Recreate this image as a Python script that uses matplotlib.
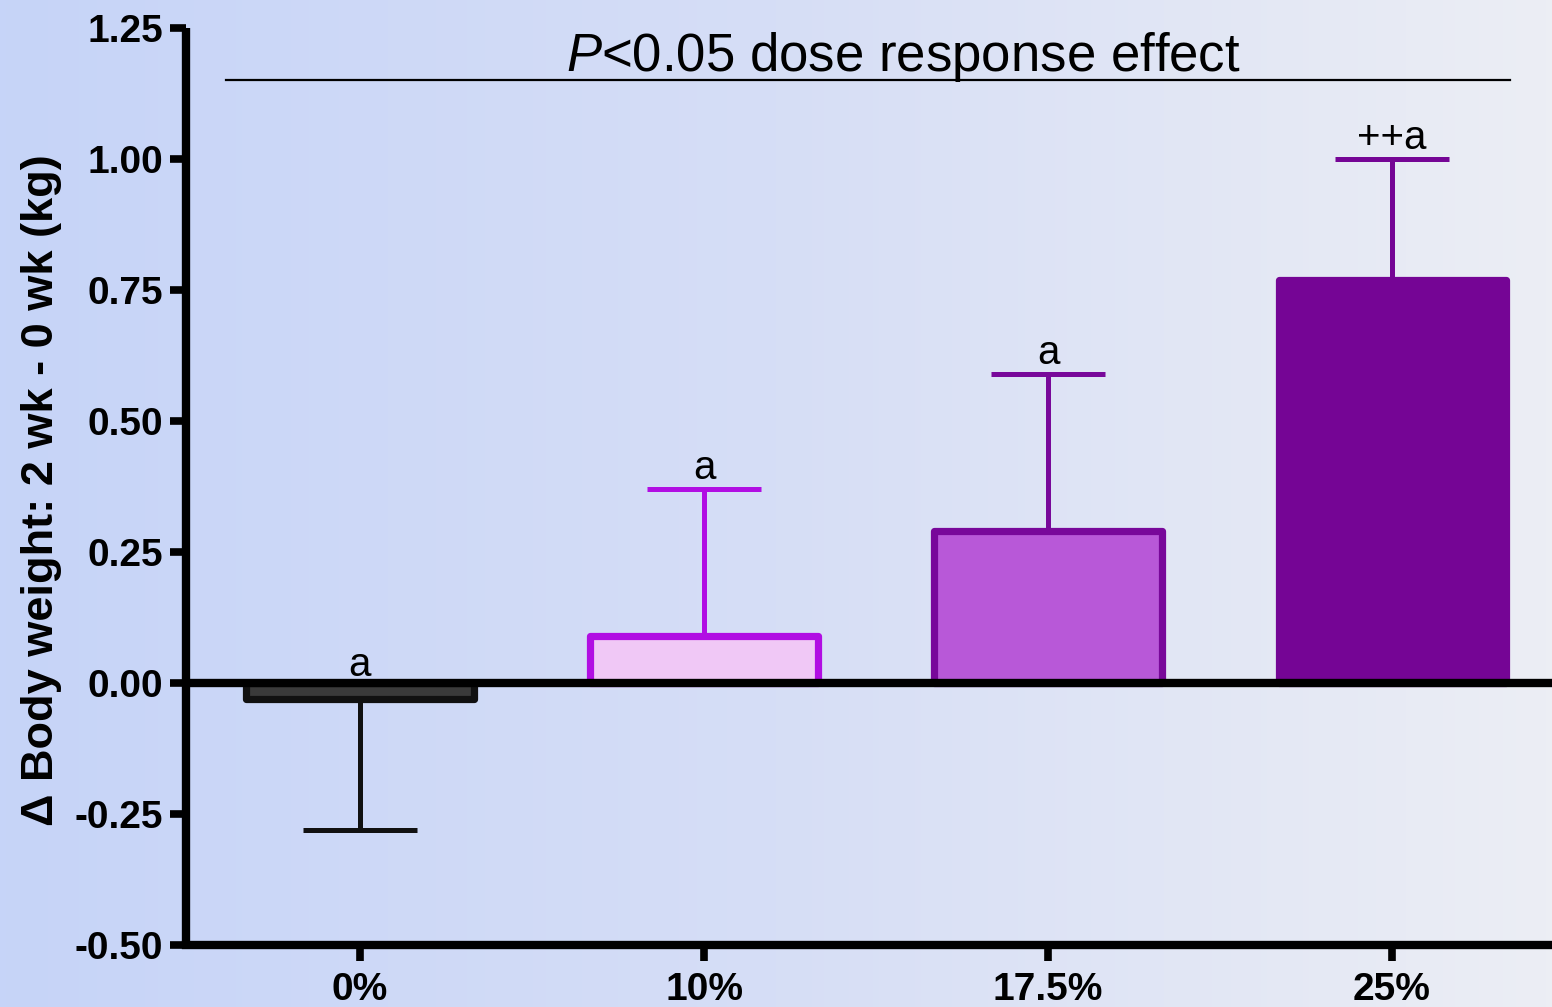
import numpy as np
import matplotlib
matplotlib.use("Agg")
import matplotlib.pyplot as plt
from matplotlib.colors import LinearSegmentedColormap

plt.rcParams['font.family'] = ['Liberation Sans', 'DejaVu Sans']
plt.rcParams['mathtext.fontset'] = 'custom'
plt.rcParams['mathtext.rm'] = 'Liberation Sans'
plt.rcParams['mathtext.it'] = 'Liberation Sans:italic'

# Data: change in body weight (kg) after 2 weeks, mean and SEM
doses = ['0%', '10%', '17.5%', '25%']
means = [-0.03, 0.09, 0.29, 0.77]
sems = [0.25, 0.28, 0.30, 0.23]
letters = ['a', 'a', 'a', '++a']

fill_colors = ['#3a3a3a', '#f0c8f6', '#b858d8', '#750595']
edge_colors = ['#111111', '#b10ee3', '#78089a', '#750595']

yticks = [-0.50, -0.25, 0.00, 0.25, 0.50, 0.75, 1.00, 1.25]

fig = plt.figure(figsize=(15.52, 10.07), dpi=100)

# Horizontal gradient background
bg = fig.add_axes([0, 0, 1, 1], zorder=-10)
cmap = LinearSegmentedColormap.from_list('bg', ['#c6d4f8', '#d6def6', '#eceef4'])
bg.imshow(np.linspace(0, 1, 256)[None, :], aspect='auto', cmap=cmap,
          extent=[0, 1, 0, 1])
bg.set_axis_off()

ax = fig.add_axes([0.1198, 0.0616, 0.8802, 0.9106])
ax.set_facecolor('none')

x = np.arange(len(doses))
ax.bar(x, means, width=0.66, color=fill_colors, edgecolor=edge_colors,
       linewidth=5.2, joinstyle='round', zorder=3)

for xi, m, s, c in zip(x, means, sems, edge_colors):
    yerr = [[0], [s]] if m >= 0 else [[s], [0]]
    ax.errorbar(xi, m, yerr=yerr, fmt='none', ecolor=c, elinewidth=3.6,
                capsize=41, capthick=3.6, zorder=2)

# Zero reference line
ax.axhline(0, color='black', lw=6, zorder=5)

# Significance letters above each error bar
for xi, m, s, t in zip(x, means, sems, letters):
    top = m + s if m >= 0 else 0.0
    off = 7 if m >= 0 else 5
    ax.annotate(t, xy=(xi, top), xytext=(0, off), textcoords='offset points',
                ha='center', va='baseline', fontsize=29, zorder=6)

# Dose-response bracket
ax.plot([-0.39, 3.343], [1.151, 1.151], color='black', lw=1.6, zorder=4)
ax.text(1.58, 1.168, r'$\it{P}$<0.05 dose response effect', ha='center',
        va='baseline', fontsize=38, zorder=6)

ax.set_xlim(-0.506, 3.465)
ax.set_ylim(-0.5, 1.25)
ax.set_xticks(x)
ax.set_xticklabels(doses)
ax.set_yticks(yticks)
ax.set_yticklabels([f'{v:.2f}' for v in yticks])

for lab in ax.get_xticklabels() + ax.get_yticklabels():
    lab.set_fontweight('bold')
    lab.set_fontsize(28)

ax.tick_params(axis='both', direction='out', length=11.5, width=5.5, pad=5)
ax.tick_params(axis='x', pad=8)
ax.spines['top'].set_visible(False)
ax.spines['right'].set_visible(False)
for sp in ('left', 'bottom'):
    ax.spines[sp].set_linewidth(6)
ax.spines['left'].set_capstyle('butt')

ax.set_ylabel('\u0394 Body weight: 2 wk - 0 wk (kg)', fontsize=32.5,
              fontweight='bold')
ax.yaxis.set_label_coords(-0.091, 0.496)

fig.savefig('out.png', dpi=100)
